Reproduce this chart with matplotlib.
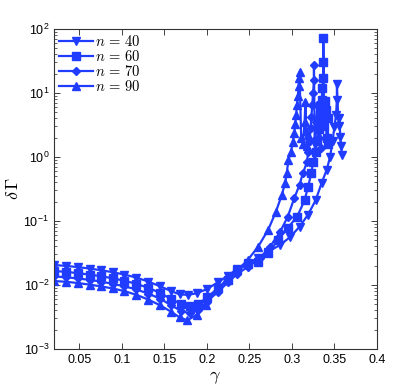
import numpy as np
import matplotlib
matplotlib.use("Agg")
import matplotlib.pyplot as plt
from matplotlib.ticker import FuncFormatter, LogLocator, FixedLocator

plt.rcParams["font.family"] = ["Liberation Sans", "DejaVu Sans"]
plt.rcParams["mathtext.fontset"] = "cm"

# n = 40 (down triangles)
x_40 = [0.020, 0.034, 0.048, 0.062, 0.075, 0.089, 0.103, 0.117, 0.131, 0.145,
        0.158, 0.168, 0.178, 0.188, 0.200, 0.213, 0.225, 0.236, 0.248, 0.260,
        0.272, 0.286, 0.298, 0.309, 0.319, 0.328, 0.335, 0.341, 0.345, 0.348,
        0.350, 0.352, 0.353, 0.353, 0.355, 0.356, 0.357, 0.358, 0.359]
y_40 = [0.0205, 0.0198, 0.0190, 0.0180, 0.0170, 0.0158, 0.0145, 0.0130, 0.0113, 0.0095,
        0.0080, 0.0071, 0.0070, 0.0074, 0.0086, 0.011, 0.014, 0.018, 0.022, 0.026,
        0.033, 0.042, 0.056, 0.081, 0.125, 0.21, 0.39, 0.63, 1.0, 1.8,
        2.9, 4.5, 7.8, 14.0, 3.0, 4.0, 2.05, 1.5, 1.07]

# n = 60 (squares)
x_60 = [0.020, 0.034, 0.048, 0.062, 0.075, 0.089, 0.103, 0.117, 0.131, 0.145,
        0.158, 0.170, 0.180, 0.190, 0.200, 0.213, 0.225, 0.236, 0.248, 0.260,
        0.272, 0.284, 0.295, 0.306, 0.315, 0.319, 0.323, 0.325, 0.328, 0.330,
        0.332, 0.333, 0.334, 0.335, 0.336, 0.337, 0.337, 0.337, 0.338, 0.339,
        0.340, 0.341, 0.342, 0.343]
y_60 = [0.0165, 0.0160, 0.0153, 0.0145, 0.0137, 0.0127, 0.0116, 0.0104, 0.0090, 0.0075,
        0.0060, 0.0050, 0.0046, 0.0050, 0.0064, 0.0088, 0.012, 0.017, 0.021, 0.023,
        0.032, 0.050, 0.078, 0.115, 0.21, 0.34, 0.56, 0.84, 1.2, 1.8,
        2.7, 4.0, 5.4, 7.8, 12.0, 17.0, 30.0, 72.0, 3.0, 7.5,
        5.5, 2.0, 4.0, 1.6]

# n = 70 (diamonds)
x_70 = [0.020, 0.034, 0.048, 0.062, 0.075, 0.089, 0.103, 0.117, 0.131, 0.145,
        0.158, 0.170, 0.180, 0.190, 0.200, 0.213, 0.225, 0.236, 0.248, 0.262,
        0.274, 0.286, 0.295, 0.303, 0.309, 0.313, 0.318, 0.319, 0.321, 0.322,
        0.323, 0.324, 0.325, 0.326, 0.326, 0.327, 0.329, 0.330, 0.332, 0.333,
        0.334]
y_70 = [0.0136, 0.0132, 0.0126, 0.0120, 0.0113, 0.0104, 0.0095, 0.0085, 0.0073, 0.0061,
        0.0048, 0.0039, 0.0036, 0.0040, 0.0055, 0.0078, 0.011, 0.015, 0.019, 0.026,
        0.039, 0.067, 0.115, 0.23, 0.365, 0.56, 0.84, 1.2, 1.8, 2.8,
        4.2, 6.5, 10.0, 16.0, 27.0, 1.15, 3.5, 6.5, 2.0, 4.5,
        1.4]

# n = 90 (up triangles)
x_90 = [0.020, 0.034, 0.048, 0.062, 0.075, 0.089, 0.103, 0.117, 0.131, 0.145,
        0.158, 0.168, 0.177, 0.188, 0.199, 0.211, 0.223, 0.236, 0.248, 0.260,
        0.272, 0.281, 0.288, 0.292, 0.294, 0.296, 0.299, 0.301, 0.303, 0.304,
        0.305, 0.306, 0.307, 0.308, 0.308, 0.309, 0.311, 0.313, 0.315, 0.316,
        0.317, 0.318, 0.319]
y_90 = [0.0115, 0.0112, 0.0107, 0.0101, 0.0095, 0.0088, 0.0080, 0.0070, 0.0059, 0.0048,
        0.0038, 0.0031, 0.0028, 0.0034, 0.0049, 0.0084, 0.0118, 0.017, 0.0245, 0.039,
        0.072, 0.137, 0.25, 0.39, 0.56, 0.9, 1.2, 1.7, 2.4, 3.3,
        4.5, 6.5, 9.0, 13.0, 17.0, 21.0, 2.0, 1.6, 3.5, 7.2,
        2.5, 1.5, 2.2]

series = [
    (x_40, y_40, "v", r"$n\,=\,40$"),
    (x_60, y_60, "s", r"$n\,=\,60$"),
    (x_70, y_70, "D", r"$n\,=\,70$"),
    (x_90, y_90, "^", r"$n\,=\,90$"),
]
blue = "#1f3cff"
x_ticks = [0.05, 0.1, 0.15, 0.2, 0.25, 0.3, 0.35, 0.4]

fig = plt.figure(figsize=(4.15, 3.92), dpi=100)
ax = fig.add_axes([0.130, 0.110, 0.778, 0.816])

for xs, ys, mk, lab in series:
    ms = 4.5 if mk == "D" else 5.5
    ax.plot(xs, ys, "-", color=blue, lw=1.6, marker=mk, ms=ms,
            mec=blue, mfc=blue, label=lab)

ax.set_yscale("log")
ax.set_xlim(0.02, 0.4)
ax.set_ylim(1e-3, 1e2)
ax.xaxis.set_major_locator(FixedLocator(x_ticks))
ax.xaxis.set_major_formatter(FuncFormatter(lambda v, p: "%g" % v))
ax.yaxis.set_major_locator(LogLocator(base=10, numticks=10))
ax.yaxis.set_minor_locator(LogLocator(base=10, subs=np.arange(2, 10), numticks=10))
ax.yaxis.set_major_formatter(FuncFormatter(
    lambda v, p: r"$\mathregular{10^{%d}}$" % int(round(np.log10(v)))))

ax.tick_params(which="both", direction="in", top=True, right=True,
               labelsize=9, colors="#222222", labelcolor="black")
ax.tick_params(which="major", length=4, width=0.6)
ax.tick_params(which="minor", length=2, width=0.5)
for s in ax.spines.values():
    s.set_linewidth(0.8)
    s.set_color("#333333")

ax.set_xlabel(r"$\gamma$", fontsize=13, labelpad=2)
ax.set_ylabel(r"$\delta\,\Gamma$", fontsize=13, labelpad=1)

leg = ax.legend(loc="upper left", frameon=False, fontsize=10.5,
                labelspacing=0.0, handlelength=2.3, handletextpad=0.15,
                borderaxespad=0.2, borderpad=0.15)

fig.savefig("out.png", dpi=100)
